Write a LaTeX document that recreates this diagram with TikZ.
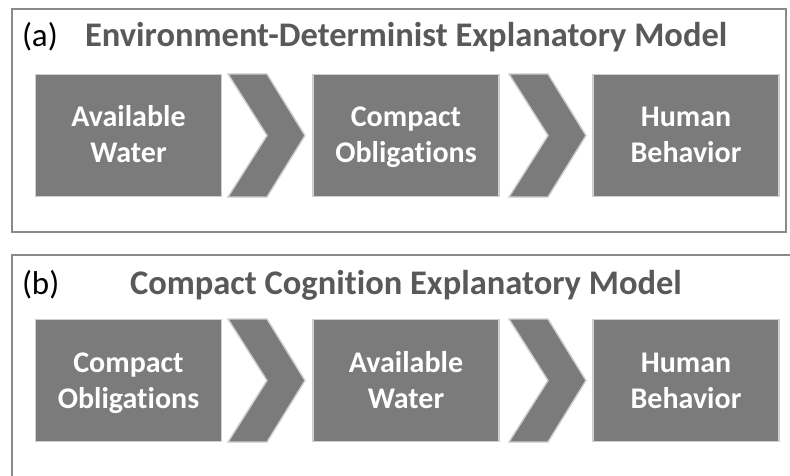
\documentclass[tikz,border=0pt]{standalone}
\usepackage{fontspec}
\setmainfont{Carlito}[Ligatures=NoCommon]
\newcommand{\stagestrut}{\rule[-8.5pt]{0pt}{36pt}}
\begin{document}
\begin{tikzpicture}[
  x=1pt, y=-1pt,
  every node/.style={inner sep=0pt, outer sep=0pt},
  stage/.style={fill=StageFill, draw=StageEdge, line width=1.6pt,
    minimum width=186pt, minimum height=122pt, align=center,
    text=white, font=\fontsize{30}{36}\selectfont\bfseries},
  chev/.style={fill=StageFill, draw=StageEdge, line width=1.4pt, line join=miter},
  panel/.style={draw=FrameLine, line width=1.6pt},
  tag/.style={anchor=base west, font=\fontsize{33}{38}\selectfont},
  heading/.style={anchor=base west, text=HeadText, font=\fontsize{34.5}{40}\selectfont\bfseries},
]

% ── colors ──
\definecolor{StageFill}{HTML}{7B7B7B}
\definecolor{StageEdge}{HTML}{CFCFCF}
\definecolor{FrameLine}{HTML}{8A8A8A}
\definecolor{HeadText}{HTML}{595959}

\clip (0,0) rectangle (790,476);
\fill[white] (0,0) rectangle (790,476);

% ── (a) Environment-Determinist ──
\draw[panel] (12,9) rectangle (786,232);
\node[tag] (tagA) at (22,46.5) {(a)};
\node[heading] (headA) at (85,46.5) {Environment-Determinist Explanatory Model};
\node[stage] (a1) at (128.5,135.5) {Available\stagestrut\\Water\stagestrut};
\node[stage] (a2) at (406,135.5) {Compact\stagestrut\\Obligations\stagestrut};
\node[stage] (a3) at (686,135.5) {Human\stagestrut\\Behavior\stagestrut};

% ── (b) Compact Cognition ──
\draw[panel] (12,255) rectangle (800,500);
\node[tag] (tagB) at (22,294.5) {(b)};
\node[heading] (headB) at (130,294.5) {Compact Cognition Explanatory Model};
\node[stage] (b1) at (128.5,380.5) {Compact\stagestrut\\Obligations\stagestrut};
\node[stage] (b2) at (406,380.5) {Available\stagestrut\\Water\stagestrut};
\node[stage] (b3) at (686,380.5) {Human\stagestrut\\Behavior\stagestrut};

% ── chevrons ──
\foreach \dy in {0,245}
  \foreach \xl in {228,509}
    \draw[chev] (\xl,74+\dy) -- ++(39,0) -- ++(38,61.5) -- ++(-38,61.5)
      -- ++(-39,0) -- ++(39,-61.5) -- cycle;

\end{tikzpicture}
\end{document}
